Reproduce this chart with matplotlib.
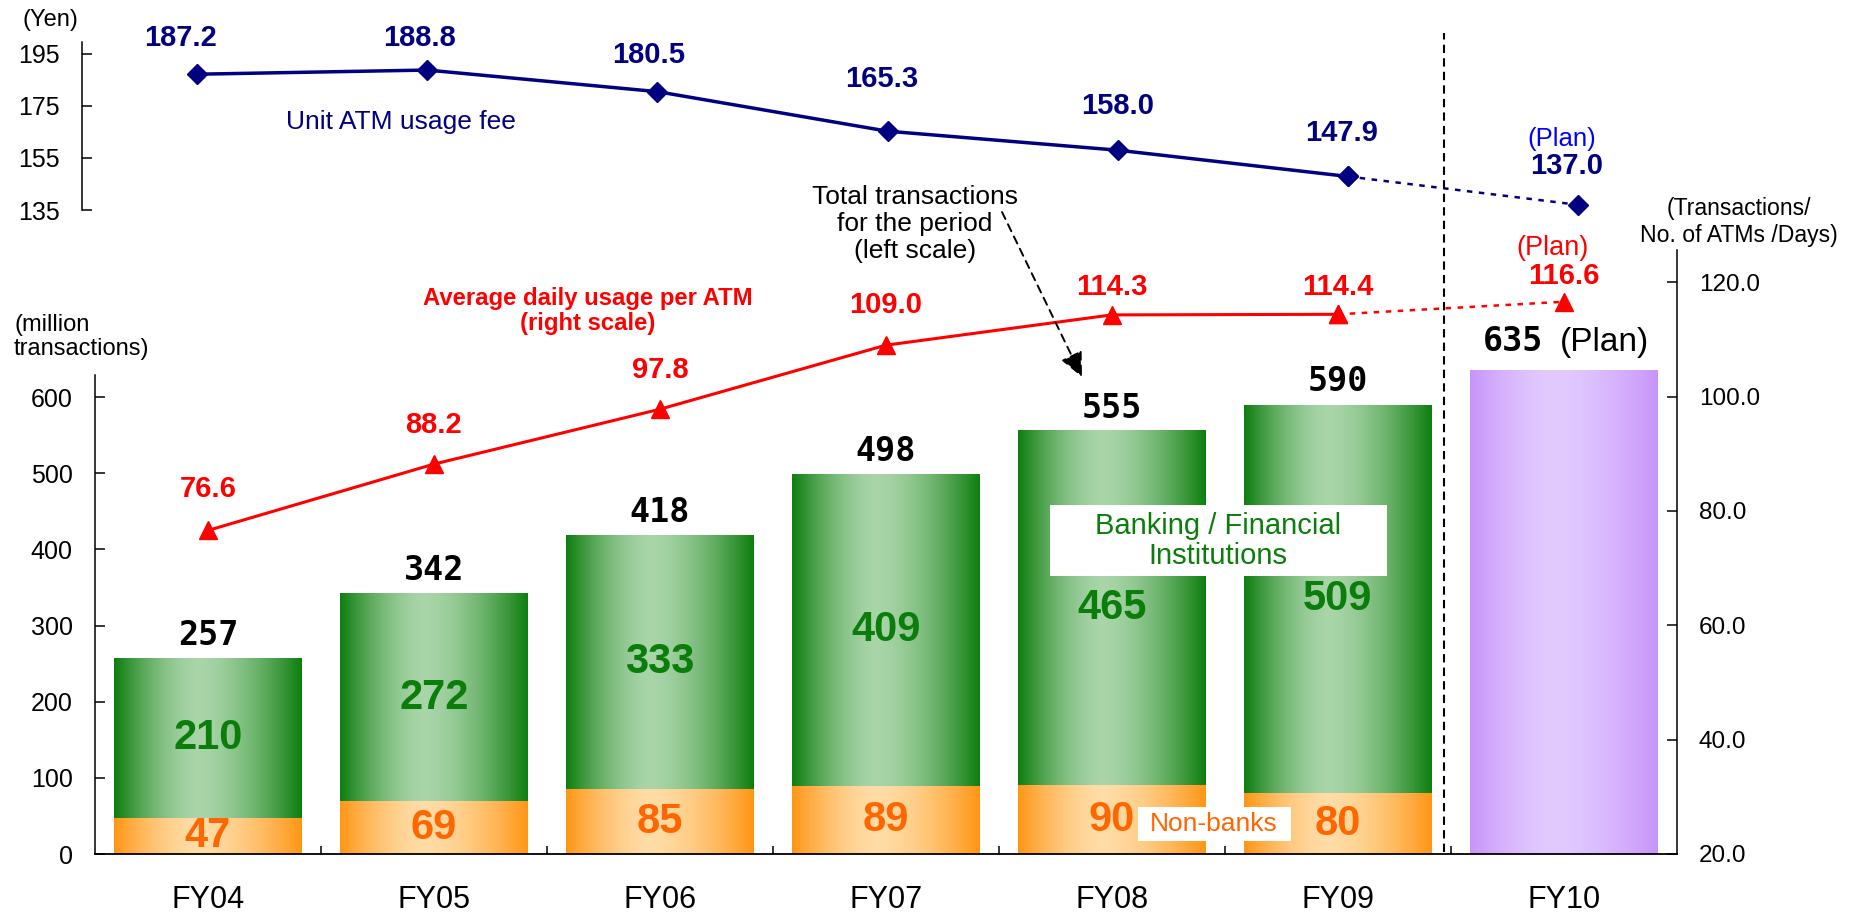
"""ATM usage: total transactions, daily usage per ATM and unit usage fee."""

import numpy as np
import matplotlib
matplotlib.use("Agg")
import matplotlib.pyplot as plt
from matplotlib import transforms
from matplotlib.lines import Line2D
from matplotlib.patches import Rectangle, FancyArrowPatch

plt.rcParams["font.family"] = ["Liberation Sans", "DejaVu Sans"]

# data
years = ["FY04", "FY05", "FY06", "FY07", "FY08", "FY09", "FY10"]
fee = [187.2, 188.8, 180.5, 165.3, 158.0, 147.9, 137.0]          # yen, FY10 = plan
daily_usage = [76.6, 88.2, 97.8, 109.0, 114.3, 114.4, 116.6]     # FY10 = plan
banking = [210, 272, 333, 409, 465, 509]
non_banks = [47, 69, 85, 89, 90, 80]
totals = [257, 342, 418, 498, 555, 590]
plan_total = 635

NAVY = "#000080"
RED = "#FF0000"
GREEN_TXT = "#0a7d0a"
ORANGE_TXT = "#FF6600"

W, H = 1859, 918
fig = plt.figure(figsize=(W / 100, H / 100), dpi=100)


def fx(x):
    return x / W


def fy(y):
    return 1 - y / H


def grad_row(edge, center, n=200):
    """Horizontal gradient: dark edges, light middle."""
    s = np.linspace(0, 1, n)
    t = np.where(s < 0.45, (0.45 - s) / 0.45, (s - 0.45) / 0.55) ** 1.6
    e = np.array(matplotlib.colors.to_rgb(edge))
    c = np.array(matplotlib.colors.to_rgb(center))
    return (c + (e - c) * t[:, None])[None, :, :]


def fill_gradient(ax, bars, edge, center):
    img = grad_row(edge, center)
    for b in bars:
        x0, y0 = b.get_x(), b.get_y()
        ax.imshow(img, extent=[x0, x0 + b.get_width(), y0, y0 + b.get_height()],
                  aspect="auto", interpolation="bilinear", zorder=2)


x = np.arange(len(years))
xa = x[:-1]

# ---- top panel: unit ATM usage fee
ax_top = fig.add_axes([fx(82), fy(210), (1693 - 82) / W, (210 - 41.7) / H])
ax_top.plot(xa, fee[:-1], color=NAVY, lw=2.5, marker="D", ms=10.5, zorder=3,
            clip_on=False)
ax_top.plot(x[-2:], fee[-2:], color=NAVY, lw=1.8, ls=(0, (2.2, 2.6)),
            marker="D", ms=10.5, zorder=3, clip_on=False)
ax_top.set_xlim(-0.5, 6.5)
ax_top.set_ylim(135, 199.7)
ax_top.set_yticks([135, 155, 175, 195])
ax_top.set_xticks([])
for side in ("top", "right", "bottom"):
    ax_top.spines[side].set_visible(False)
ax_top.spines["left"].set_linewidth(1.1)
ax_top.tick_params(axis="y", direction="in", length=7, width=1.1, labelsize=18, pad=16)
ax_top.patch.set_alpha(0)

blue_dy = [36, 32, 37, 52, 44, 43, 39]
blue_dx = [-17, -8, -9, -6, 0, -6, -11]
for i, v in enumerate(fee):
    ax_top.annotate(f"{v:.1f}", (i, v), xytext=(blue_dx[i] * 0.72, blue_dy[i] * 0.72),
                    textcoords="offset points", ha="center", va="center",
                    fontsize=21, fontweight="bold", color=NAVY, annotation_clip=False)
ax_top.annotate("(Plan)", (x[-1], fee[-1]), xytext=(-16.5 * 0.72, 65.7 * 0.72),
                textcoords="offset points", ha="center", va="center",
                fontsize=18.5, color="#0000FF", annotation_clip=False)

# ---- bottom panel: transactions (bars) and daily usage (line)
ax = fig.add_axes([fx(95), fy(854), (1676.7 - 95) / W, (854 - 250) / H])
bw = 0.832
nb_bars = ax.bar(xa, non_banks, bw, color="none", lw=0)
bk_bars = ax.bar(xa, banking, bw, bottom=non_banks, color="none", lw=0)
pl_bars = ax.bar(x[-1:], [plan_total], bw, color="none", lw=0)
fill_gradient(ax, nb_bars, "#FF9614", "#FFDCA6")
fill_gradient(ax, bk_bars, "#0E7E0E", "#A9D5A9")
fill_gradient(ax, pl_bars, "#C794FA", "#E2CAFF")

ax.set_xlim(-0.5, 6.5)
ax.set_ylim(0, 793)
ax.set_yticks(range(0, 601, 100))
ax.set_xticks(x)
ax.set_xticklabels(years)
ax.set_xticks(np.arange(0.5, 6, 1), minor=True)
ax.tick_params(axis="x", which="major", length=0, labelsize=22, pad=22)
ax.tick_params(axis="x", which="minor", direction="in", length=6, width=1.1)
ax.tick_params(axis="y", direction="in", length=7, width=1.1, labelsize=18, pad=16)
ax.spines["top"].set_visible(False)
ax.spines["right"].set_visible(False)
ax.spines["left"].set_bounds(0, 629)
ax.spines["left"].set_linewidth(1.1)
ax.spines["bottom"].set_linewidth(1.3)

for i in range(len(banking)):
    ax.text(i, non_banks[i] + banking[i] / 2, str(banking[i]), ha="center", va="center",
            fontsize=30, fontweight="bold", color=GREEN_TXT, zorder=4)
    ax.text(i, non_banks[i] / 2, str(non_banks[i]), ha="center", va="center",
            fontsize=30, fontweight="bold", color=ORANGE_TXT, zorder=4)
    ax.annotate(str(totals[i]), (i, totals[i]), xytext=(0, 9.5),
                textcoords="offset points", ha="center", va="baseline",
                family="DejaVu Sans Mono", fontweight="bold", fontsize=24)
ax.annotate(str(plan_total), (x[-1], plan_total), xytext=(-15, 14),
            textcoords="offset points", ha="right", va="baseline",
            family="DejaVu Sans Mono", fontweight="bold", fontsize=24)
ax.annotate("(Plan)", (x[-1], plan_total), xytext=(-3, 14),
            textcoords="offset points", ha="left", va="baseline", fontsize=24)

ax2 = ax.twinx()
ax2.plot(xa, daily_usage[:-1], color=RED, lw=2.2, marker="^", ms=13.5, zorder=3,
         clip_on=False)
ax2.plot(x[-2:], daily_usage[-2:], color=RED, lw=1.8, ls=(0, (2.2, 2.6)),
         marker="^", ms=13.5, zorder=3, clip_on=False)
ax2.set_ylim(20, 125.65)
ax2.set_yticks(range(20, 121, 20))
ax2.set_yticklabels([f"{v:.1f}" for v in range(20, 121, 20)])
ax2.tick_params(axis="y", direction="in", length=7, width=1.1, labelsize=17.5, pad=16)
for side in ("top", "left", "bottom"):
    ax2.spines[side].set_visible(False)
ax2.spines["right"].set_linewidth(1.1)

red_dy = [41, 39, 39, 40, 27.5, 27.5, 25.5]
for i, v in enumerate(daily_usage):
    ax2.annotate(f"{v:.1f}", (i, v), xytext=(0, red_dy[i] * 0.72),
                 textcoords="offset points", ha="center", va="center",
                 fontsize=21, fontweight="bold", color=RED, annotation_clip=False)
ax2.annotate("(Plan)", (x[-1], daily_usage[-1]), xytext=(-11 * 0.72, 54 * 0.72),
             textcoords="offset points", ha="center", va="center",
             fontsize=19.5, color=RED, annotation_clip=False)

# separator between actuals and plan
sep = transforms.blended_transform_factory(ax.transData, fig.transFigure)
fig.add_artist(Line2D([5.47, 5.47], [fy(852), fy(33)], transform=sep,
                      color="black", lw=1.5, ls=(0, (4, 2.5))))

# ---- annotations
fig.text(fx(50), fy(20), "(Yen)", ha="center", va="center", fontsize=17)
fig.text(fx(14), fy(337), "(million\ntransactions)", ha="left", va="center",
         fontsize=17, linespacing=1.15)
fig.text(fx(1739), fy(222), "(Transactions/\nNo. of ATMs /Days)", ha="center",
         va="center", fontsize=16.6, linespacing=1.2)
fig.text(fx(401), fy(122), "Unit ATM usage fee", ha="center", va="center",
         fontsize=19, color=NAVY)
fig.text(fx(588), fy(311), "Average daily usage per ATM\n(right scale)", ha="center",
         va="center", fontsize=17.2, fontweight="bold", color=RED, linespacing=1.15)
fig.text(fx(915), fy(224), "Total transactions\nfor the period\n(left scale)",
         ha="center", va="center", fontsize=19, linespacing=1.15)
fig.add_artist(FancyArrowPatch((fx(1002), fy(212)), (fx(1082), fy(377)),
                               transform=fig.transFigure,
                               arrowstyle="-|>,head_length=0.75,head_width=0.35",
                               mutation_scale=20, color="black", lw=1.4,
                               linestyle=(0, (4, 3)), shrinkA=0, shrinkB=0))

fig.add_artist(Rectangle((fx(1050), fy(576)), (1387 - 1050) / W, (576 - 505) / H,
                         transform=fig.transFigure, facecolor="white",
                         edgecolor="none", zorder=5))
fig.text(fx(1218), fy(541), "Banking / Financial\nInstitutions", ha="center",
         va="center", fontsize=21, color=GREEN_TXT, linespacing=1.1, zorder=6)
fig.add_artist(Rectangle((fx(1138), fy(841)), (1291 - 1138) / W, (841 - 807) / H,
                         transform=fig.transFigure, facecolor="white",
                         edgecolor="none", zorder=5))
fig.text(fx(1214), fy(824), "Non-banks", ha="center", va="center", fontsize=19,
         color=ORANGE_TXT, zorder=6)

fig.savefig("out.png", dpi=100)
